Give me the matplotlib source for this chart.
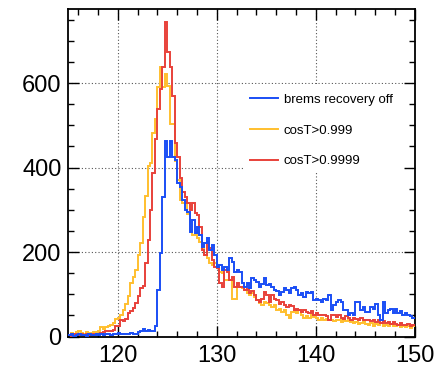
import numpy as np
import matplotlib
matplotlib.use("Agg")
import matplotlib.pyplot as plt
from matplotlib.patches import Rectangle
from matplotlib.ticker import MultipleLocator

plt.rcParams['font.family'] = ['Liberation Sans', 'DejaVu Sans']

# binning: 0.25 wide bins from 115 to 150
bin_lo, bin_hi, bin_w = 115.0, 150.0, 0.25

# counts per bin, four bins per unit on x
brems_off = [
    3, 5, 2, 4,   6, 3, 4, 2,   5, 3, 4, 6,   3, 5, 4, 6,   5, 4, 6, 5,
    8, 5, 6, 7,   6, 8, 7, 5,   10, 14, 18, 12,   15, 12, 14, 26,
    110, 198, 331, 462,   424, 462, 424, 419,   364, 355, 324, 300,
    296, 248, 276, 245,   260, 240, 213, 221,   233, 205, 217, 193,
    165, 169, 157, 165,   157, 186, 177, 153,   157, 153, 126, 117,
    126, 114, 138, 133,   129, 117, 124, 138,   121, 124, 117, 110,
    108, 98, 105, 114,   110, 102, 114, 117,   110, 98, 102, 94,
    105, 102, 105, 86,   90, 86, 82, 90,   86, 98, 62, 74,
    82, 86, 82, 62,   62, 50, 55, 50,   81, 81, 62, 70,
    58, 58, 70, 66,   78, 50, 38, 81,   55, 62, 66, 55,
    66, 55, 60, 50,   55, 50, 48, 45,
]

cos_999 = [
    4, 8, 6, 10,   12, 8, 6, 10,   8, 6, 10, 8,   12, 22, 18, 22,
    25, 28, 32, 42,   45, 50, 62, 78,   95, 126, 140, 157,
    193, 221, 284, 332,   403, 411, 483, 514,   590, 637, 590, 621,
    594, 502, 502, 415,   371, 324, 316, 316,   290, 252, 240, 245,
    233, 224, 221, 193,   186, 174, 169, 175,   162, 153, 150, 133,
    133, 133, 90, 90,   117, 117, 114, 110,   102, 98, 102, 94,
    86, 79, 74, 82,   80, 74, 70, 74,   62, 66, 58, 62,
    50, 43, 58, 62,   55, 62, 50, 43,   48, 43, 52, 46,
    45, 40, 44, 38,   42, 38, 40, 36,   38, 40, 35, 38,
    36, 40, 34, 32,   35, 30, 33, 36,   30, 28, 32, 26,
    30, 27, 32, 25,   28, 24, 30, 26,   25, 28, 22, 26,
    22, 26, 20, 24,
]

cos_9999 = [
    3, 2, 5, 4,   3, 6, 4, 5,   4, 3, 6, 5,   6, 8, 10, 12,
    14, 13, 16, 26,   26, 38, 36, 42,   55, 60, 67, 80,
    95, 114, 120, 174,   229, 300, 388, 467,   538, 586, 638, 745,
    673, 638, 569, 459,   426, 376, 343, 331,   317, 300, 317, 293,
    288, 260, 205, 193,   224, 209, 181, 165,   162, 126, 117, 157,
    153, 133, 141, 117,   126, 117, 117, 110,   112, 102, 108, 98,
    86, 82, 90, 105,   98, 82, 98, 90,   86, 78, 82, 75,
    70, 74, 72, 62,   66, 62, 58, 62,   58, 55, 60, 50,
    55, 50, 52, 50,   48, 38, 52, 50,   46, 50, 44, 42,
    48, 44, 40, 45,   42, 38, 44, 40,   38, 40, 36, 38,
    35, 38, 33, 36,   32, 35, 30, 34,   30, 28, 32, 27,
    28, 30, 25, 27,
]

labels = ['brems recovery off', 'cosT>0.999', 'cosT>0.9999']
colors = ['#1a4ef5', '#ffbf2e', '#e8413a']

edges = np.arange(bin_lo, bin_hi + bin_w / 2, bin_w)

fig = plt.figure(figsize=(4.38, 3.67), dpi=100)
ax = fig.add_axes([0.156, 0.083, 0.791, 0.892])

# yellow and red first, blue drawn on top
ax.stairs(cos_999, edges, baseline=None, color=colors[1], lw=1.4, label=labels[1], zorder=3)
ax.stairs(cos_9999, edges, baseline=None, color=colors[2], lw=1.4, label=labels[2], zorder=3)
ax.stairs(brems_off, edges, baseline=None, color=colors[0], lw=1.4, label=labels[0], zorder=4)

ax.set_xlim(bin_lo, bin_hi)
ax.set_ylim(0, 775)

ax.xaxis.set_major_locator(MultipleLocator(10))
ax.xaxis.set_minor_locator(MultipleLocator(2))
ax.yaxis.set_major_locator(MultipleLocator(200))
ax.yaxis.set_minor_locator(MultipleLocator(50))

ax.tick_params(which='both', direction='in', top=True, right=True, width=1, color='black')
ax.tick_params(which='major', length=8, labelsize=17)
ax.tick_params(which='minor', length=4)
ax.tick_params(axis='x', which='major', pad=6)
ax.tick_params(axis='y', which='major', pad=5)
for s in ax.spines.values():
    s.set_linewidth(1.3)

ax.set_axisbelow(True)
ax.grid(True, which='major', color='#555555', lw=0.8, linestyle=(0, (1, 2)))

# white box behind the legend hides the grid there
ax.add_patch(Rectangle((0.509, 0.50), 0.46, 0.272, transform=ax.transAxes,
                       facecolor='white', edgecolor='none', zorder=2))

handles, labs = ax.get_legend_handles_labels()
order = [labs.index(l) for l in labels]
ax.legend([handles[i] for i in order], [labs[i] for i in order],
          loc='upper left', bbox_to_anchor=(0.524, 0.743), frameon=False,
          fontsize=9.5, handlelength=2.1, handletextpad=0.45,
          labelspacing=1.42, borderpad=0, borderaxespad=0)

fig.savefig('out.png', dpi=100)
